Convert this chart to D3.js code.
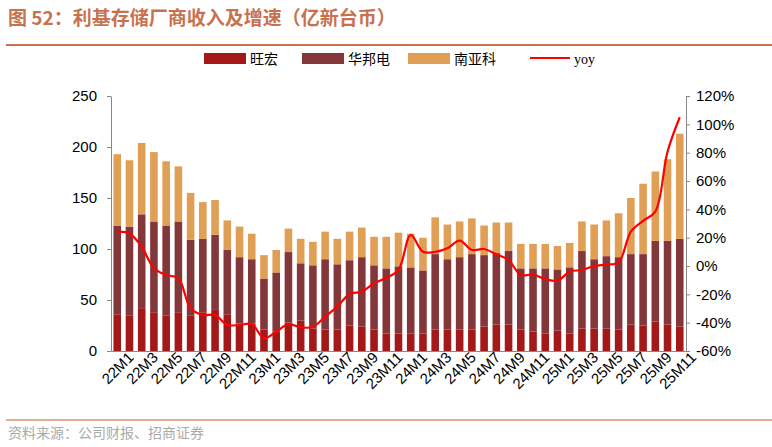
<!DOCTYPE html><html><head><meta charset="utf-8"><script src="https://cdn.jsdelivr.net/npm/d3@7"></script>
<style>body{margin:0;background:#fff}text{font-family:"Liberation Sans",Arial,sans-serif}</style></head><body><svg id="c" width="772" height="447"></svg><script>
const months=[];for(const y of [22,23,24,25])for(let m=1;m<=12;m++){if(y===25&&m>11)break;months.push(y+"M"+m);}
const wanghong=[36,35,42,38,35,38,35,38,41,36,27,27,21,19,28,30,22,21,21,25,24,21,17,17,17,17,21,21,21,21,24,26,26,21,19,17,20,17,22,22,22,21,26,25,29,26,24];
const winbond=[87,87,92,89,88,89,74,72,73,63,65,63,50,58,69,56,62,69,64,64,68,63,64,66,65,62,74,69,71,74,70,70,72,60,62,64,60,65,76,68,71,71,69,70,79,82,86];
const nanya=[70,65,70,68,63,54,46,36,34,29,30,25,23,22,23,24,23,27,25,28,29,28,31,33,33,32,36,34,35,35,29,30,28,24,24,24,23,24,29,34,35,43,55,69,68,80,103];
const yoy=[24.2,23,13.6,-1.6,-6.4,-8.7,-29.9,-34.6,-34.6,-41.6,-41.6,-41,-51,-46.4,-41,-43.3,-43,-35.8,-28.7,-19.8,-18.1,-12.2,-8.3,-2.8,21.9,10,10,12.5,17.9,11.3,12,8.3,4.2,-6.4,-6,-9.2,-10.4,-4,-2.8,0,1,2.6,24.2,31.8,38.4,80.7,105];
const leftTicks=[0,50,100,150,200,250];const rightTicks=[-60,-40,-20,0,20,40,60,80,100,120];
const names=["旺宏","华邦电","南亚科"],colors=["#a31818","#84373a","#e09f55"];
const svg=d3.select("#c");
svg.append("text").attr("x",8).attr("y",25).attr("fill","#c8714e").attr("font-size",19).attr("font-weight","bold").style("font-family","'Noto Sans CJK SC'").text("图 52：利基存储厂商收入及增速（亿新台币）");
svg.append("line").attr("x1",6).attr("x2",778).attr("y1",45).attr("y2",45).attr("stroke","#c8714e").attr("stroke-width",2);
svg.append("line").attr("x1",6).attr("x2",778).attr("y1",420).attr("y2",420).attr("stroke","#e0906e").attr("stroke-width",1.5);
svg.append("text").attr("x",8).attr("y",438).attr("fill","#aaa").attr("font-size",14).style("font-family","'Noto Sans CJK SC'").text("资料来源：公司财报、招商证券");
const x=d3.scaleBand().domain(months).range([111,686]).paddingInner(0.38).paddingOuter(0.2);
const y=d3.scaleLinear().domain([0,250]).range([351,96]);
const y2=d3.scaleLinear().domain([-60,120]).range([351,96]);
const stack=d3.stack().keys([0,1,2]).value((d,k)=>d[k])(months.map((m,i)=>[wanghong[i],winbond[i],nanya[i]]));
stack.forEach((s,k)=>svg.append("g").selectAll("rect").data(s).join("rect").attr("x",(d,i)=>x(months[i])).attr("width",x.bandwidth()).attr("y",d=>y(d[1])).attr("height",d=>y(d[0])-y(d[1])).attr("fill",colors[k]));
const la=svg.append("g").attr("transform","translate(111,0)").call(d3.axisLeft(y).tickValues(leftTicks).tickSize(4).tickSizeOuter(0));
const ra=svg.append("g").attr("transform","translate(686,0)").call(d3.axisRight(y2).tickValues(rightTicks).tickFormat(d=>d+"%").tickSize(4).tickSizeOuter(0));
const xa=svg.append("g").attr("transform","translate(0,351)").call(d3.axisBottom(x).tickValues(months.filter((m,i)=>i%2===0)).tickSize(0));
[la,ra,xa].forEach(a=>{a.selectAll("path,line").attr("stroke","#888");a.selectAll("text").attr("font-size",15).attr("fill","#000").style("font-family","'Liberation Sans',Arial");});
la.selectAll("text").attr("x",-14);ra.selectAll("text").attr("x",10);
xa.selectAll("text").attr("transform","rotate(-45)").attr("text-anchor","end").attr("dx","0.2em").attr("dy","0.9em").attr("y",4).attr("x",4);
svg.append("path").datum(yoy).attr("fill","none").attr("stroke","#ff0000").attr("stroke-width",2.2).attr("d",d3.line().x((d,i)=>x(months[i])+x.bandwidth()/2).y(d=>y2(d)).curve(d3.curveCatmullRom));
const lg=svg.append("g").attr("font-size",14);
const lx=[204,302,408,530];
names.forEach((n,k)=>{lg.append("rect").attr("x",lx[k]).attr("y",53).attr("width",42).attr("height",11).attr("fill",colors[k]);lg.append("text").attr("x",lx[k]+46).attr("y",64).style("font-family","'Noto Sans CJK SC'").text(n);});
lg.append("line").attr("x1",lx[3]).attr("x2",lx[3]+40).attr("y1",58).attr("y2",58).attr("stroke","#f00").attr("stroke-width",2);
lg.append("text").attr("x",lx[3]+44).attr("y",64).style("font-family","'Liberation Serif',serif").text("yoy");
</script></body></html>
